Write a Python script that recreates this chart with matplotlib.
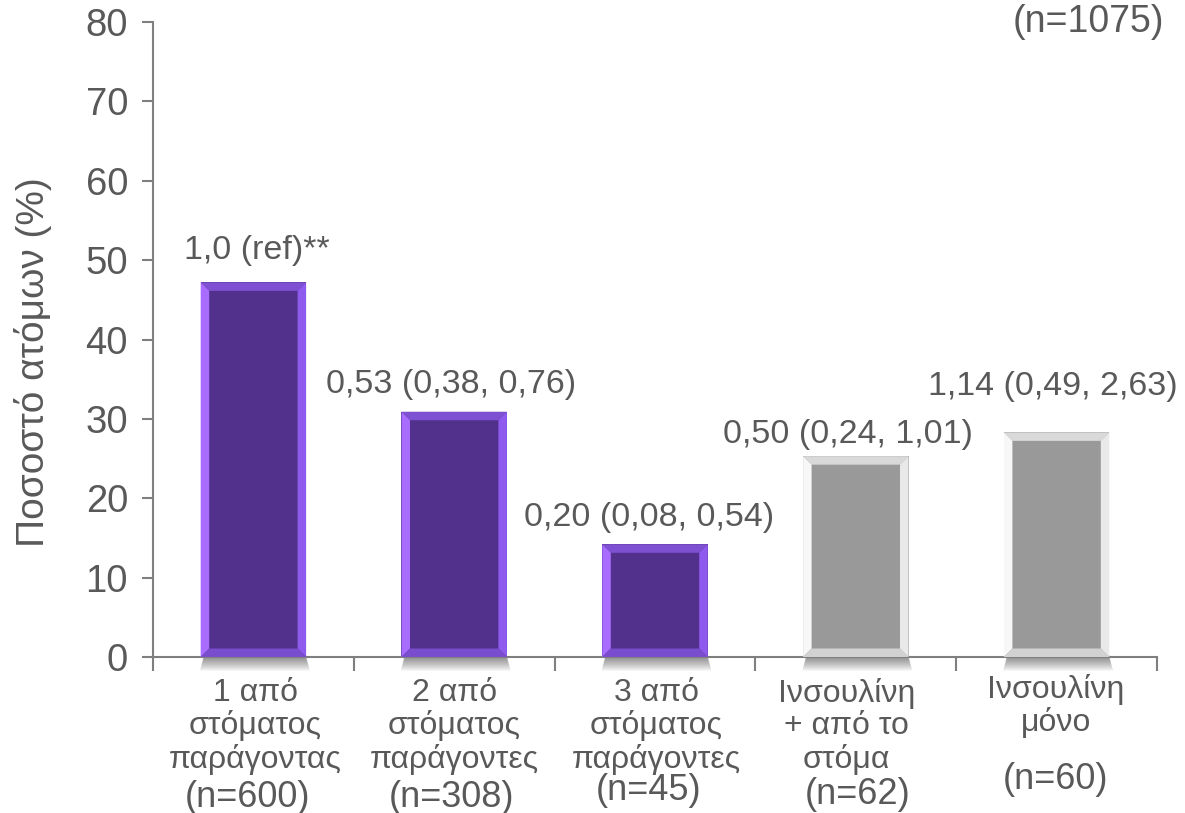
import matplotlib
matplotlib.use("Agg")
import matplotlib.pyplot as plt
from matplotlib.patches import Polygon
import numpy as np

plt.rcParams['font.family'] = ['Liberation Sans', 'DejaVu Sans']

# --- data ---
categories = [
    "1 από\nστόματος\nπαράγοντας",
    "2 από\nστόματος\nπαράγοντες",
    "3 από\nστόματος\nπαράγοντες",
    "Ινσουλίνη\n+ από το\nστόμα",
    "Ινσουλίνη\nμόνο",
]
group_n = ["(n=600)", "(n=308)", "(n=45)", "(n=62)", "(n=60)"]
percent = [47.2, 30.9, 14.2, 25.3, 28.3]
odds_labels = [
    "1,0 (ref)**",
    "0,53 (0,38, 0,76)",
    "0,20 (0,08, 0,54)",
    "0,50 (0,24, 1,01)",
    "1,14 (0,49, 2,63)",
]
total_label = "(n=1075)"
y_ticks = [0, 10, 20, 30, 40, 50, 60, 70, 80]

TXT = "#595959"
AXC = "#7f7f7f"

# bevel palettes: inner, top, left, right, bottom
purple = dict(inner="#51318B", top="#7E50D2", left="#A86CFF", right="#8F5BEE", bottom="#7A4DCE")
grey = dict(inner="#999999", top="#D9D9D9", left="#F7F7F7", right="#E9E9E9", bottom="#D2D2D2")
palettes = [purple, purple, purple, grey, grey]

W, H = 1185, 813
fig = plt.figure(figsize=(W / 100, H / 100), dpi=100)
ax = fig.add_axes([153 / W, 1 - 657 / H, (1157 - 153) / W, (657 - 22) / H])

x = np.arange(len(categories))
bar_w = 0.525
ax.set_xlim(-0.5, len(categories) - 0.5)
ax.set_ylim(0, 80)

bars = ax.bar(x, percent, width=bar_w, color=[p["inner"] for p in palettes],
              edgecolor="none", zorder=3)

fig.canvas.draw()
to_disp = ax.transData
to_data = ax.transData.inverted()


def disp_poly(pts, **kw):
    data_pts = to_data.transform(np.array(pts, dtype=float))
    return Polygon(data_pts, closed=True, **kw)


bev = 8.5
for rect, pal in zip(bars, palettes):
    x0, y0 = rect.get_x(), rect.get_y()
    x1, y1 = x0 + rect.get_width(), y0 + rect.get_height()
    (px0, py0), (px1, py1) = to_disp.transform([(x0, y0), (x1, y1)])

    # soft drop shadow under the base of the bar
    for k in range(14):
        grow = 14 - k
        sh = disp_poly([(px0 + 4 - grow * 0.35, py0 - grow), (px1 - 1 + grow * 0.35, py0 - grow),
                        (px1 - 1, py0 + 6), (px0 + 4, py0 + 6)],
                       facecolor="#000000", edgecolor="none", alpha=0.035,
                       zorder=2, clip_on=False)
        ax.add_patch(sh)

    ix0, iy0, ix1, iy1 = px0 + bev, py0 + bev, px1 - bev, py1 - bev
    faces = [
        ([(px0, py1), (px1, py1), (ix1, iy1), (ix0, iy1)], pal["top"]),
        ([(px0, py0), (ix0, iy0), (ix0, iy1), (px0, py1)], pal["left"]),
        ([(px1, py0), (px1, py1), (ix1, iy1), (ix1, iy0)], pal["right"]),
        ([(px0, py0), (px1, py0), (ix1, iy0), (ix0, iy0)], pal["bottom"]),
    ]
    for pts, col in faces:
        ax.add_patch(disp_poly(pts, facecolor=col, edgecolor="none", zorder=4,
                               clip_on=False))

# value labels above the bars
label_dx = [3, -3, -6, -8, -4]
label_dy = [32, 27, 27, 22, 46]
for i, (val, txt) in enumerate(zip(percent, odds_labels)):
    ax.annotate(txt, xy=(x[i], val), xytext=(label_dx[i], label_dy[i]),
                textcoords="offset pixels", ha="center", va="center",
                fontsize=24.5, color=TXT, zorder=5)

ax.text(1088, H - 22, total_label, transform=None, ha="center", va="center",
        fontsize=27, color=TXT)

# category labels under the axis
cat_dx = [2, 0, 1, -9, -1]
cat_top = [678, 678, 678, 678, 674]
n_dx = [-6, -3, -6, 2, -1]
n_y = [797, 797, 790, 794, 779]
for i, (name, n) in enumerate(zip(categories, group_n)):
    cx = ax.transData.transform((x[i], 0))[0]
    fig.text((cx + cat_dx[i]) / W, 1 - cat_top[i] / H, name, ha="center", va="top",
             fontsize=23, color=TXT, linespacing=1.1)
    fig.text((cx + n_dx[i]) / W, 1 - n_y[i] / H, n, ha="center", va="center",
             fontsize=26, color=TXT)

# axes styling
for side in ("top", "right"):
    ax.spines[side].set_visible(False)
for side in ("left", "bottom"):
    ax.spines[side].set_color(AXC)
    ax.spines[side].set_linewidth(1.5)
    ax.spines[side].set_zorder(3.5)

ax.set_yticks(y_ticks)
ax.set_yticklabels([str(v) for v in y_ticks])
ax.tick_params(axis="y", direction="out", length=8, width=1.5, color=AXC,
               labelsize=27.5, labelcolor=TXT, pad=10)
ax.set_xticks(np.arange(-0.5, len(categories), 1.0))
ax.set_xticklabels([])
ax.tick_params(axis="x", direction="out", length=10, width=1.5, color=AXC)

fig.text(33 / W, 1 - 362 / H, "Ποσοστό ατόμων (%)", rotation=90, ha="center",
         va="center", fontsize=28, color=TXT)

fig.savefig("out.png", dpi=100)
